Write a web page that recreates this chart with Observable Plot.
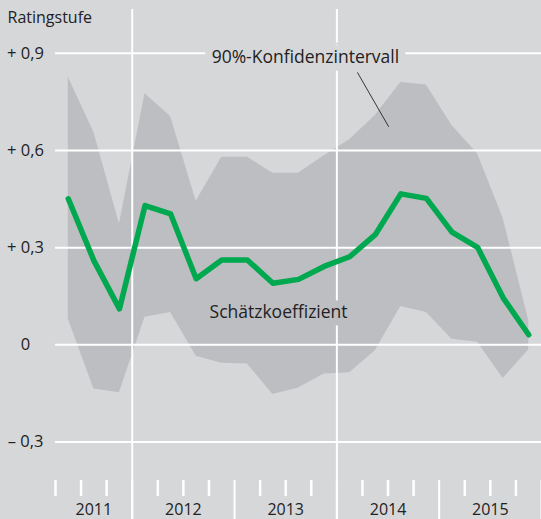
<!DOCTYPE html>
<html>
<head>
<meta charset="utf-8">
<script src="https://cdn.jsdelivr.net/npm/d3@7"></script>
<script src="https://cdn.jsdelivr.net/npm/@observablehq/plot@0.6"></script>
<style>
  html, body { margin: 0; padding: 0; background: #d6d7d9; }
  #chart { width: 541px; height: 519px; }
</style>
</head>
<body>
<div id="chart"></div>
<script>
// Quarters 2011 Q2 – 2015 Q4
const quarters = ["2011 Q2","2011 Q3","2011 Q4",
  "2012 Q1","2012 Q2","2012 Q3","2012 Q4",
  "2013 Q1","2013 Q2","2013 Q3","2013 Q4",
  "2014 Q1","2014 Q2","2014 Q3","2014 Q4",
  "2015 Q1","2015 Q2","2015 Q3","2015 Q4"];
const estimate = [0.451, 0.26, 0.111, 0.43, 0.404, 0.204, 0.262, 0.262, 0.19, 0.202,
  0.242, 0.272, 0.34, 0.466, 0.452, 0.348, 0.301, 0.145, 0.031];
const upper = [0.826, 0.656, 0.373, 0.775, 0.705, 0.443, 0.579, 0.579, 0.53, 0.53,
  0.584, 0.633, 0.708, 0.81, 0.802, 0.677, 0.59, 0.391, 0.075];
const lower = [0.08, -0.136, -0.148, 0.085, 0.1, -0.035, -0.057, -0.059, -0.153, -0.133,
  -0.09, -0.086, -0.018, 0.118, 0.1, 0.017, 0.008, -0.104, -0.016];

const years = ["2011", "2012", "2013", "2014", "2015"];
const yearCenters = [2.5, 6, 10, 14, 18];          // in quarter units
const quarterTicks = [1,2,3,5,6,7,9,10,11,13,14,15,17,18,19];
const yearTicks = [4, 8, 12, 16, 20];
const fullLines = [4, 12];

const yTicks = [-0.3, 0, 0.3, 0.6, 0.9];
const yTickLabels = ["– 0,3", "0", "+ 0,3", "+ 0,6", "+ 0,9"];

const yTitle = "Ratingstufe";
const bandLabel = "90%-Konfidenzintervall";
const lineLabel = "Schätzkoeffizient";
const bandLabelPos = {x: 10.77, y: 0.887};
const lineLabelPos = {x: 9.72, y: 0.1};
const leader = [{x: 12.81, y: 0.84}, {x: 14.02, y: 0.674}];

const data = quarters.map((q, i) => ({q, x: i + 1.5, est: estimate[i], lo: lower[i], hi: upper[i]}));

const BG = "#d6d7d9";
const BAND = "#bdbec2";
const GREEN = "#00a84f";
const TXT = "#222222";
const FONT = "'Open Sans', 'DejaVu Sans', sans-serif";

const chart = Plot.plot({
  width: 541,
  height: 519,
  marginLeft: 55,
  marginRight: 0,
  marginTop: 52.8,
  marginBottom: 77.5,
  style: {background: BG, fontFamily: FONT, fontSize: "16px", color: TXT, overflow: "visible"},
  x: {type: "linear", domain: [1, 20], axis: null},
  y: {domain: [-0.3, 0.9], axis: null},
  marks: [
    Plot.areaY(data, {x: "x", y1: "lo", y2: "hi", fill: BAND, curve: "linear"}),
    Plot.ruleY(yTicks, {x1: 1, x2: 20, stroke: "white", strokeWidth: 2}),
    Plot.ruleX(fullLines, {y1: 1.035, y2: -0.54, stroke: "white", strokeWidth: 2}),
    Plot.ruleX(quarterTicks, {y1: -0.419, y2: -0.468, stroke: "white", strokeWidth: 2.5}),
    Plot.ruleX(yearTicks, {y1: -0.419, y2: -0.54, stroke: "white", strokeWidth: 2}),
    Plot.text(yTicks, {x: 1, y: d => d, text: (d, i) => yTickLabels[i], dx: -30, textAnchor: "middle",
      fill: TXT, fontSize: 16.5}),
    Plot.text(years, {x: (d, i) => yearCenters[i], y: -0.524, text: d => d, lineAnchor: "bottom",
      textAnchor: "middle", fill: TXT, fontSize: 16}),
    Plot.text([yTitle], {frameAnchor: "top-left", dx: -48, dy: -30.3, lineAnchor: "bottom",
      textAnchor: "start", fill: TXT, fontSize: 16}),
    Plot.text([bandLabel], {x: bandLabelPos.x, y: bandLabelPos.y, text: d => d, textAnchor: "middle",
      lineAnchor: "middle", fill: TXT, fontSize: 17.5, fontWeight: 500, stroke: BG, strokeWidth: 15,
      strokeLinejoin: "round"}),
    Plot.text([lineLabel], {x: lineLabelPos.x, y: lineLabelPos.y, text: d => d, textAnchor: "middle",
      lineAnchor: "middle", fill: TXT, fontSize: 17.5, fontWeight: 500, stroke: BAND, strokeWidth: 15,
      strokeLinejoin: "round"}),
    Plot.line(leader, {x: "x", y: "y", stroke: TXT, strokeWidth: 0.9}),
    Plot.line(data, {x: "x", y: "est", stroke: GREEN, strokeWidth: 5.5, strokeLinejoin: "round"})
  ]
});
document.getElementById("chart").appendChild(chart);
</script>
</body>
</html>
